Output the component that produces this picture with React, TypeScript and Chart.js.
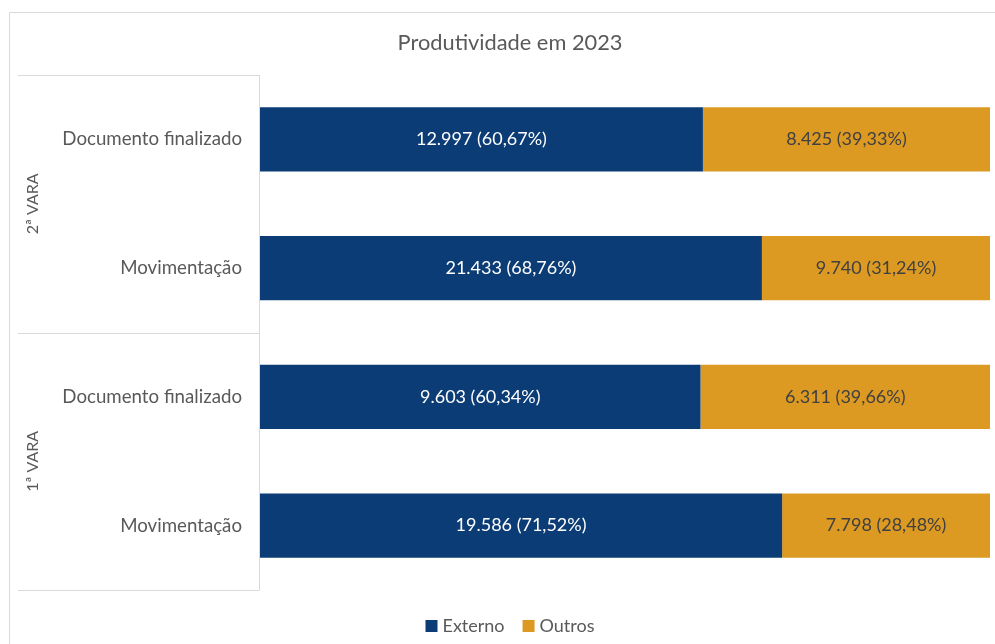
import React, { useEffect, useRef } from "react";
import { Chart, registerables } from "chart.js";

Chart.register(...registerables);

const TITLE = "Produtividade em 2023";
const groups = ["2ª VARA", "1ª VARA"];
const categories = ["Documento finalizado", "Movimentação", "Documento finalizado", "Movimentação"];
const categoryGroup = [0, 0, 1, 1];
const seriesNames = ["Externo", "Outros"];
const externo = [12997, 21433, 9603, 19586];
const outros = [8425, 9740, 6311, 7798];
const colors = ["#0b3c75", "#dc9a22"];
const labelColors = ["#ffffff", "#404040"];

const FONT = "Lato, 'Open Sans', sans-serif";
const GRID = "#d9d9d9";
const TEXT = "#595959";

const totals = externo.map((v, i) => v + outros[i]);
const pct = (arr: number[]) => arr.map((v, i) => (v / totals[i]) * 100);
const raw = [externo, outros];

const fmtInt = (v: number) => v.toString().replace(/\B(?=(\d{3})+(?!\d))/g, ".");
const fmtPct = (p: number) => p.toFixed(2).replace(".", ",") + "%";

const decorPlugin = {
  id: "decor",
  beforeDraw(chart: any) {
    const ctx = chart.ctx;
    const { width, height } = chart;
    const area = chart.chartArea;
    const y = chart.scales.y;
    ctx.save();
    ctx.fillStyle = "#ffffff";
    ctx.fillRect(0, 0, width, height);
    ctx.strokeStyle = GRID;
    ctx.lineWidth = 1;
    // outer frame
    ctx.beginPath();
    ctx.moveTo(9.5, height);
    ctx.lineTo(9.5, 12.5);
    ctx.lineTo(width, 12.5);
    ctx.stroke();
    // group boxes
    const bandH = (area.bottom - area.top) / categories.length;
    const leftX = 18;
    const axisX = Math.round(area.left) - 0.5;
    const boundaries = [0, 2, 4];
    ctx.beginPath();
    boundaries.forEach((b) => {
      const yy = Math.round(area.top + b * bandH) + 0.5;
      ctx.moveTo(leftX, yy);
      ctx.lineTo(axisX, yy);
    });
    ctx.moveTo(axisX, area.top);
    ctx.lineTo(axisX, area.bottom);
    ctx.stroke();

    // category labels
    ctx.fillStyle = TEXT;
    ctx.font = `18.7px ${FONT}`;
    ctx.textAlign = "right";
    ctx.textBaseline = "middle";
    categories.forEach((c, i) => {
      ctx.fillText(c, area.left - 18, y.getPixelForValue(i));
    });
    // group labels
    groups.forEach((g, gi) => {
      const idx = categoryGroup.map((v, i) => (v === gi ? i : -1)).filter((i) => i >= 0);
      const cy = (y.getPixelForValue(idx[0]) + y.getPixelForValue(idx[idx.length - 1])) / 2;
      ctx.save();
      ctx.translate(33, cy);
      ctx.rotate(-Math.PI / 2);
      ctx.textAlign = "center";
      ctx.textBaseline = "middle";
      ctx.font = `16px ${FONT}`;
      ctx.fillText(g, 0, 0);
      ctx.restore();
    });

    // title
    ctx.font = `21.8px ${FONT}`;
    ctx.textAlign = "center";
    ctx.textBaseline = "middle";
    ctx.fillText(TITLE, 510, 43);

    // legend
    ctx.font = `18px ${FONT}`;
    const box = 12;
    const gapBox = 5;
    const gapItem = 18;
    const widths = seriesNames.map((n) => box + gapBox + ctx.measureText(n).width);
    const total = widths.reduce((a, b) => a + b, 0) + gapItem * (seriesNames.length - 1);
    let x = 510 - total / 2;
    const ly = 626;
    ctx.textAlign = "left";
    seriesNames.forEach((n, i) => {
      ctx.fillStyle = colors[i];
      ctx.fillRect(x, ly - box / 2, box, box);
      ctx.fillStyle = TEXT;
      ctx.fillText(n, x + box + gapBox, ly);
      x += widths[i] + gapItem;
    });
    ctx.restore();
  },
  afterDatasetsDraw(chart: any) {
    const ctx = chart.ctx;
    ctx.save();
    ctx.font = `18px ${FONT}`;
    ctx.textAlign = "center";
    ctx.textBaseline = "middle";
    chart.data.datasets.forEach((ds: any, di: number) => {
      const meta = chart.getDatasetMeta(di);
      meta.data.forEach((bar: any, i: number) => {
        const cx = (bar.x + bar.base) / 2;
        ctx.fillStyle = labelColors[di];
        ctx.fillText(`${fmtInt(raw[di][i])} (${fmtPct(ds.data[i])})`, cx, bar.y);
      });
    });
    ctx.restore();
  },
};

export default function App() {
  const ref = useRef<HTMLCanvasElement | null>(null);
  useEffect(() => {
    if (!ref.current) return;
    const chart = new Chart(ref.current, {
      type: "bar",
      data: {
        labels: categories,
        datasets: [
          { label: seriesNames[0], data: pct(externo), backgroundColor: colors[0], barPercentage: 0.5, categoryPercentage: 1 },
          { label: seriesNames[1], data: pct(outros), backgroundColor: colors[1], barPercentage: 0.5, categoryPercentage: 1 },
        ],
      },
      options: {
        indexAxis: "y",
        responsive: false,
        animation: false,
        devicePixelRatio: 1,
        layout: { padding: { left: 260, right: 5, top: 75, bottom: 54 } },
        scales: {
          x: { stacked: true, min: 0, max: 100, display: false },
          y: { stacked: true, display: false },
        },
        plugins: {
          legend: { display: false },
          title: { display: false },
          tooltip: { enabled: false },
        },
      },
      plugins: [decorPlugin],
    });
    return () => chart.destroy();
  }, []);
  return (
    <div style={{ position: "fixed", left: 0, top: 0, width: 995, height: 644, background: "#fff" }}>
      <canvas ref={ref} width={995} height={644} style={{ display: "block", width: 995, height: 644 }} />
    </div>
  );
}
